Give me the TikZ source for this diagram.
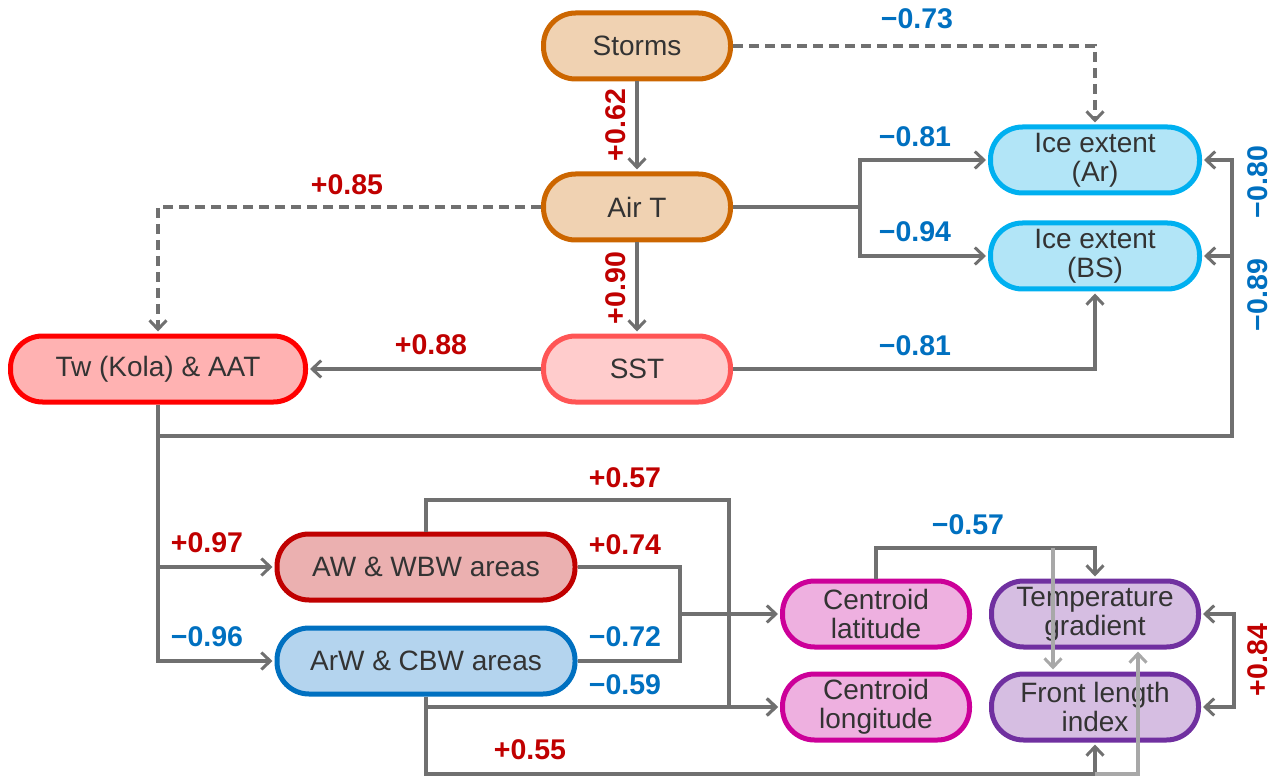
\documentclass[tikz,border=0pt]{standalone}
\usepackage{fontspec}
\setmainfont{Liberation Sans}
\usetikzlibrary{arrows.meta}
\definecolor{ln}{HTML}{707070}
\definecolor{lnl}{HTML}{A8A8A8}
\definecolor{txt}{HTML}{333333}
\definecolor{pos}{HTML}{C00000}
\definecolor{neg}{HTML}{0070C0}
\definecolor{orF}{HTML}{F0D2B2}\definecolor{orD}{HTML}{CC6600}
\definecolor{sstF}{HTML}{FFCCCC}\definecolor{sstD}{HTML}{FF5555}
\definecolor{twF}{HTML}{FFB2B2}\definecolor{twD}{HTML}{FF0000}
\definecolor{iceF}{HTML}{B2E5F7}\definecolor{iceD}{HTML}{00B0F0}
\definecolor{awF}{HTML}{EBB0B0}\definecolor{awD}{HTML}{C00000}
\definecolor{arF}{HTML}{B4D4EE}\definecolor{arD}{HTML}{0070C0}
\definecolor{cF}{HTML}{EEB0E0}\definecolor{cD}{HTML}{CC0099}
\definecolor{tF}{HTML}{D6BEE2}\definecolor{tD}{HTML}{7030A0}
\begin{document}
\begin{tikzpicture}[x=1pt,y=-1pt,
  box/.style={rectangle, rounded corners=32pt, line width=5pt, minimum height=66pt,
    font=\fontsize{28}{29}\selectfont, text=txt, align=center, inner sep=0pt},
  tip/.style={-{Straight Barb[length=9pt,width=17pt,line width=3pt]}},
  line/.style={draw=ln, line width=3.5pt},
  conn/.style={line, tip, shorten >=2pt},
  lconn/.style={draw=lnl, line width=3.5pt, tip, shorten >=2pt},
  dsh/.style={dash pattern=on 10pt off 6pt},
  lab/.style={font=\bfseries\fontsize{28.5}{30}\selectfont, inner sep=0pt},
  plab/.style={lab, text=pos},
  nlab/.style={lab, text=neg}]
\useasboundingbox (0,0) rectangle (1278,778);
% nodes
\node[box, fill=orF, draw=orD, minimum width=187pt] (storms) at (637,46) {Storms};
\node[box, fill=orF, draw=orD, minimum width=187pt] (airt) at (637,207) {Air T};
\node[box, fill=sstF, draw=sstD, minimum width=187pt] (sst) at (637,369) {SST};
\node[box, fill=twF, draw=twD, minimum width=295pt] (tw) at (158,369) {Tw (Kola) \& AAT};
\node[box, fill=iceF, draw=iceD, minimum width=209pt] (icear) at (1095,160) {Ice extent\\(Ar)};
\node[box, fill=iceF, draw=iceD, minimum width=209pt] (icebs) at (1095,256) {Ice extent\\(BS)};
\node[box, fill=awF, draw=awD, minimum width=298pt] (aw) at (426,567) {AW \& WBW areas};
\node[box, fill=arF, draw=arD, minimum width=298pt] (arw) at (426,661) {ArW \& CBW areas};
\node[box, fill=cF, draw=cD, minimum width=187pt] (clat) at (876,614) {Centroid\\latitude};
\node[box, fill=cF, draw=cD, minimum width=187pt] (clon) at (876,707) {Centroid\\longitude};
\node[box, fill=tF, draw=tD, minimum width=207pt] (temp) at (1095,614) {Temperature\\gradient};
\node[box, fill=tF, draw=tD, minimum width=207pt] (front) at (1095,707) {Front length\\index};
% junction coordinates
\coordinate (jA) at (860,207);
\coordinate (jR) at (1232,436);
\coordinate (jT) at (729,500);
\coordinate (jM) at (680,614);
\coordinate (jB) at (1095,774);
\coordinate (jC) at (876,548);
\coordinate (jL1) at (1053,548);
\coordinate (jL3) at (1138,774);
\coordinate (jE) at (1234,614);
% connectors
\draw[conn] (storms) -- (airt);
\draw[conn, dsh] (storms.east) -| (icear.north);
\draw[line] (airt.east) -- (jA);
\draw[conn] (jA) |- (icear.west);
\draw[conn] (jA) |- (icebs.west);
\draw[conn, dsh] (airt.west) -| (tw.north);
\draw[conn] (airt) -- (sst);
\draw[conn] (sst) -- (tw);
\draw[conn] (sst.east) -| (icebs.south);
\draw[conn] (tw.south) |- (jR) |- (icear.east);
\draw[conn] (jR |- icebs.east) -- (icebs.east);
\draw[conn] (tw.south) |- (arw.west);
\draw[conn] (tw.south |- aw.west) -- (aw.west);
\draw[conn] (aw.north) |- (jT) -- (jT |- clon.west) -- (clon.west);
\draw[line] (aw.east) -| (jM);
\draw[line] (arw.east) -| (jM);
\draw[conn] (jM) -- (clat.west);
\draw[conn] (arw.south) |- (clon.west);
\draw[conn] (arw.south) |- (jB) -- (front.south);
\draw[conn] (clat.north) |- (jC) -| (temp.north);
\draw[line, {Straight Barb[length=9pt,width=17pt,line width=3pt]}-{Straight Barb[length=9pt,width=17pt,line width=3pt]}, shorten <=2pt, shorten >=2pt] (temp.east) -| (jE) |- (front.east);
% light connectors over boxes
\draw[lconn] (jL1) -- (jL1 |- front.north);
\draw[lconn] (jB) -- (jL3) -- (jL3 |- temp.south);
% labels
\node[nlab] (l73) at (917,19) {−0.73};
\node[plab, rotate=90] (l62) at (616,125) {+0.62};
\node[nlab] (l81a) at (915,137) {−0.81};
\node[nlab] (l94) at (915,232) {−0.94};
\node[plab] (l85) at (347,185) {+0.85};
\node[plab, rotate=90] (l90) at (616,288) {+0.90};
\node[plab] (l88) at (431,345) {+0.88};
\node[nlab] (l81b) at (915,346) {−0.81};
\node[nlab, rotate=90] (l80) at (1258,182) {−0.80};
\node[nlab, rotate=90] (l89) at (1258,295) {−0.89};
\node[plab] (l57a) at (625,478) {+0.57};
\node[plab] (l74) at (625,545) {+0.74};
\node[nlab] (l72) at (625,637) {−0.72};
\node[nlab] (l59) at (625,685) {−0.59};
\node[plab] (l97) at (207,543) {+0.97};
\node[nlab] (l96) at (207,637) {−0.96};
\node[nlab] (l57b) at (968,525) {−0.57};
\node[plab] (l55) at (530,750) {+0.55};
\node[plab, rotate=90] (l84) at (1258,660) {+0.84};
\end{tikzpicture}
\end{document}
